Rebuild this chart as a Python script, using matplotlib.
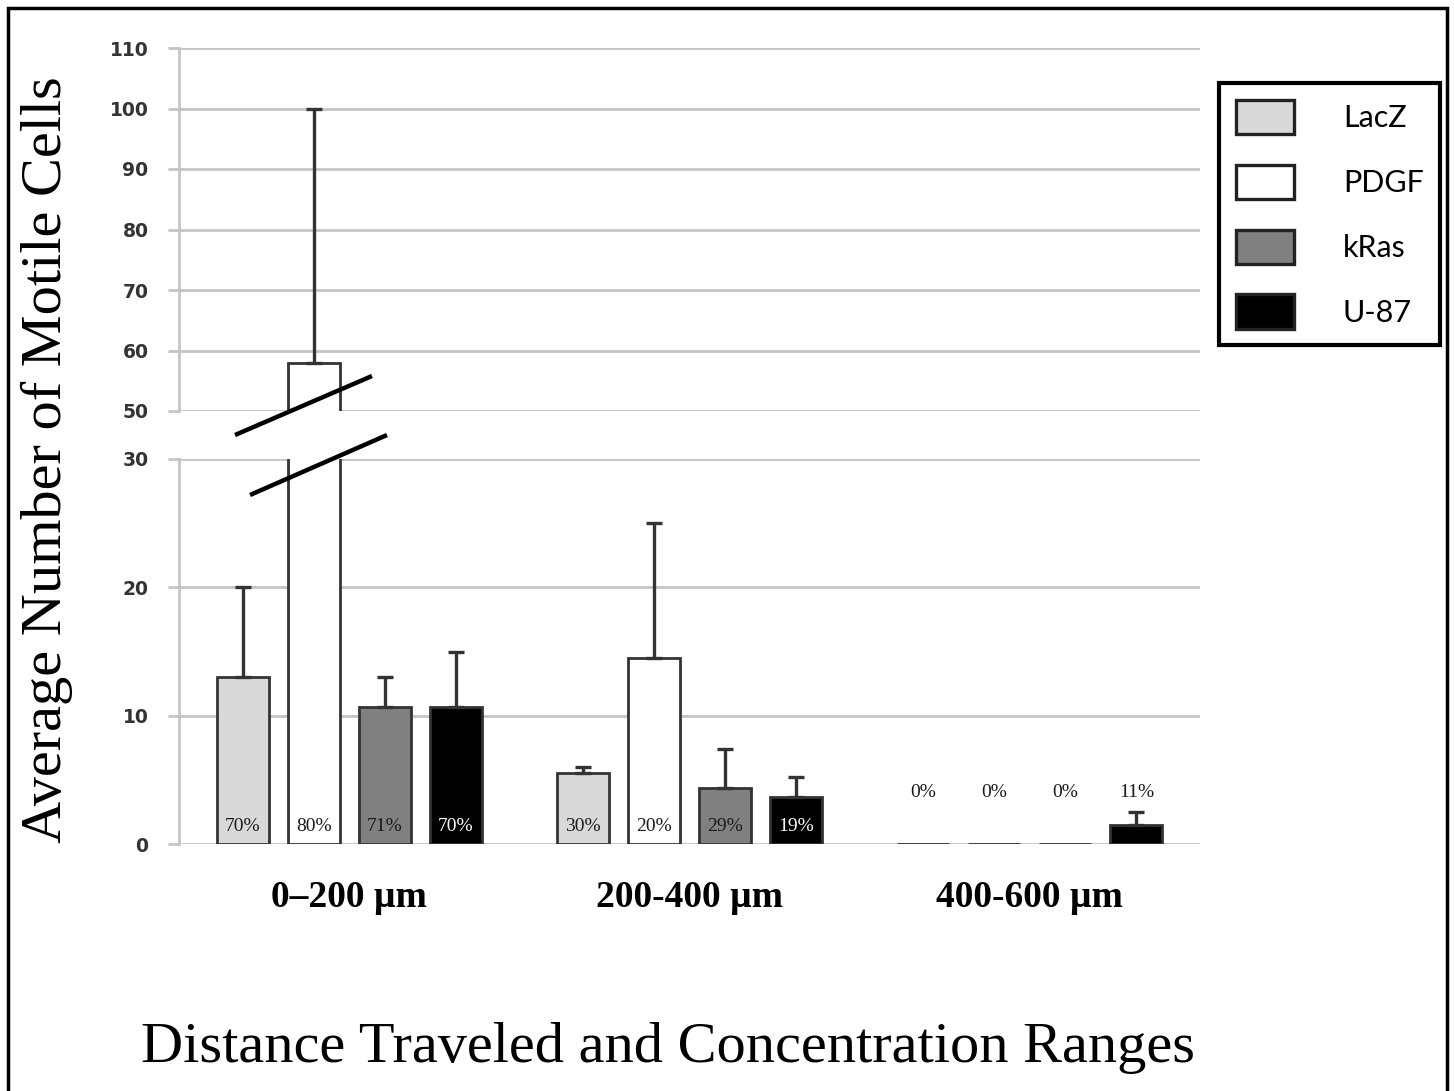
import matplotlib
matplotlib.use("Agg")
import matplotlib.pyplot as plt
import numpy as np
from matplotlib.lines import Line2D
from matplotlib.patches import Rectangle, Patch

# ---------------- data ----------------
categories = ["0\u2013200 \u00b5m", "200-400 \u00b5m", "400-600 \u00b5m"]
series = ["LacZ", "PDGF", "kRas", "U-87"]
lacz_mean = [13.0, 5.5, 0.0]
pdgf_mean = [58.0, 14.5, 0.0]
kras_mean = [10.7, 4.4, 0.0]
u87_mean = [10.7, 3.7, 1.5]
lacz_err = [7.0, 0.5, 0.0]
pdgf_err = [42.0, 10.5, 0.0]
kras_err = [2.3, 3.0, 0.0]
u87_err = [4.3, 1.5, 1.0]
lacz_pct = ["70%", "30%", "0%"]
pdgf_pct = ["80%", "20%", "0%"]
kras_pct = ["71%", "29%", "0%"]
u87_pct = ["70%", "19%", "11%"]
lower_ticks = [0, 10, 20, 30]
upper_ticks = [50, 60, 70, 80, 90, 100, 110]

means = [lacz_mean, pdgf_mean, kras_mean, u87_mean]
errs = [lacz_err, pdgf_err, kras_err, u87_err]
pcts = [lacz_pct, pdgf_pct, kras_pct, u87_pct]
colors = ["#d9d9d9", "#ffffff", "#808080", "#000000"]
edge = "#333333"
grid_c = "#c4c4c4"

W, H = 1454, 1091
fig = plt.figure(figsize=(W / 100, H / 100), dpi=100)
fig.patch.set_facecolor("white")

def fx(px):
    return px / W

def fy(py):
    return 1 - py / H

left, right = fx(179), fx(1200)
ax_up = fig.add_axes([left, fy(411), right - left, fy(48) - fy(411)])
ax_lo = fig.add_axes([left, fy(844), right - left, fy(459) - fy(844)])

step = 71 / 340
width = 52 / 340
xg = np.arange(len(categories))

for ax in (ax_up, ax_lo):
    for i in range(len(series)):
        x = xg + (i - 1.5) * step
        ax.bar(x, means[i], width=width, color=colors[i], edgecolor=edge,
               linewidth=2.0, zorder=3, label=series[i])
        m = np.array(means[i]); e = np.array(errs[i])
        mask = e > 0
        ax.errorbar(x[mask], m[mask], yerr=[np.zeros(mask.sum()), e[mask]],
                    fmt="none", ecolor=edge, elinewidth=2.4, capsize=6,
                    capthick=2.4, zorder=4)
    ax.set_xlim(-0.5, 2.5)
    for s in ("top", "right", "bottom"):
        ax.spines[s].set_visible(False)
    ax.spines["left"].set_color(grid_c)
    ax.spines["left"].set_linewidth(2)
    ax.yaxis.grid(True, color=grid_c, linewidth=2, zorder=0)
    ax.set_axisbelow(True)
    ax.tick_params(axis="y", length=8, width=2, color=grid_c, pad=14,
                   labelsize=13.5, labelcolor="#333333")

ax_up.set_ylim(50, 110)
ax_up.set_yticks(upper_ticks)
ax_up.set_xticks([])
ax_lo.set_ylim(0, 30)
ax_lo.set_yticks(lower_ticks)
ax_lo.set_xticks(xg)
ax_lo.set_xticklabels(categories, fontfamily="Liberation Serif",
                      fontweight="bold", fontsize=27)
ax_lo.tick_params(axis="x", length=0, pad=26)
for ax in (ax_up, ax_lo):
    for lab in ax.get_yticklabels():
        lab.set_fontweight("bold")

# percentage labels
for i in range(len(series)):
    for g in range(len(categories)):
        x = xg[g] + (i - 1.5) * step
        v = means[i][g]
        if v >= 3:
            y = 1.4
            c = "white" if i == 3 else "#1a1a1a"
        else:
            y = 4.05
            c = "#1a1a1a"
        ax_lo.text(x, y, pcts[i][g], ha="center", va="center", fontsize=14,
                   fontfamily="Liberation Serif", color=c, zorder=5)

# axis break marks
for (x0, y0, x1, y1) in [(235, 435, 372, 376), (250, 495, 387, 435)]:
    fig.add_artist(Line2D([fx(x0), fx(x1)], [fy(y0), fy(y1)], color="black",
                          linewidth=3.2, solid_capstyle="butt"))

# legend
handles = [Patch(facecolor=colors[i], edgecolor="#222222", linewidth=2.4,
                 label=series[i]) for i in range(len(series))]
leg = fig.legend(handles=handles, loc="upper left",
                 bbox_to_anchor=(fx(1219), fy(83)), borderaxespad=0,
                 prop={"family": "Lato", "size": 22}, handlelength=1.9,
                 handleheight=1.35, labelspacing=1.0, handletextpad=1.6,
                 borderpad=0.55, fancybox=False, framealpha=1)
leg.get_frame().set_edgecolor("black")
leg.get_frame().set_linewidth(3)

# axis titles
fig.text(fx(47), fy(460), "Average Number of Motile Cells", rotation=90,
         ha="center", va="center", fontsize=42, fontfamily="Liberation Serif")
fig.text(fx(668), fy(1048), "Distance Traveled and Concentration Ranges",
         ha="center", va="center", fontsize=42, fontfamily="Liberation Serif")

# outer border
fig.add_artist(Rectangle((fx(8), -0.02), fx(1447) - fx(8), fy(8) + 0.02,
                         fill=False, edgecolor="black", linewidth=2.5,
                         transform=fig.transFigure))

fig.savefig("out.png", dpi=100)
